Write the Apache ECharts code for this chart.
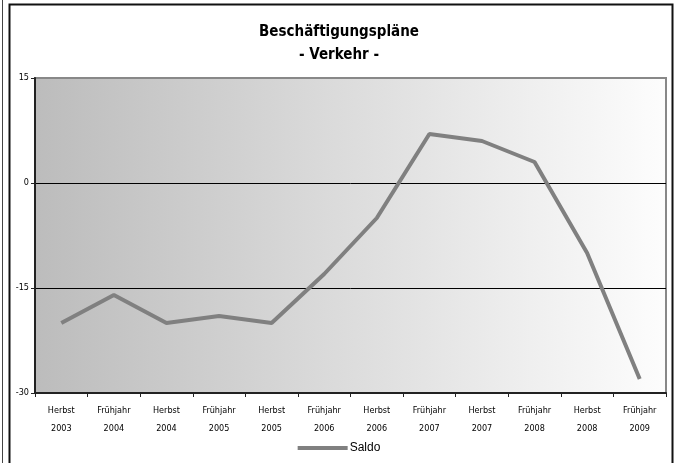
<!DOCTYPE html>
<html>
<head>
<meta charset="utf-8">
<script src="https://cdn.jsdelivr.net/npm/echarts@6/dist/echarts.min.js"></script>
<style>
  html, body { margin: 0; padding: 0; background: #fff; }
  #chart { width: 678px; height: 463px; }
</style>
</head>
<body>
<div id="chart"></div>
<script>
// Survey periods (two-line labels: season / year)
const categories = [
  'Herbst\n2003', 'Frühjahr\n2004', 'Herbst\n2004', 'Frühjahr\n2005',
  'Herbst\n2005', 'Frühjahr\n2006', 'Herbst\n2006', 'Frühjahr\n2007',
  'Herbst\n2007', 'Frühjahr\n2008', 'Herbst\n2008', 'Frühjahr\n2009'
];
// Balance of planned hiring (Saldo), transport sector
const saldo = [-20, -16, -20, -19, -20, -13, -5, 7, 6, 3, -10, -28];
const seriesName = 'Saldo';
const yTicks = { min: -30, max: 15, step: 15 };

const narrow = "'DejaVu Sans Condensed', 'Liberation Sans', Arial, sans-serif";
const plain = "'Liberation Sans', Arial, sans-serif";

const chart = echarts.init(document.getElementById('chart'));
chart.setOption({
  animation: false,
  backgroundColor: '#ffffff',
  title: {
    text: 'Beschäftigungspläne\n- Verkehr -',
    left: 'center',
    top: 16,
    textStyle: {
      fontFamily: narrow,
      fontSize: 15,
      fontWeight: 'bold',
      color: '#000',
      lineHeight: 23
    }
  },
  legend: {
    data: [seriesName],
    bottom: 4,
    left: 'center',
    icon: 'rect',
    itemWidth: 50,
    itemHeight: 4,
    itemGap: 2,
    textStyle: { fontFamily: plain, fontSize: 12, color: '#000', padding: [0, 0, 0, -3] }
  },
  grid: {
    left: 35,
    right: 12,
    top: 78,
    bottom: 70,
    show: true,
    borderColor: '#888888',
    borderWidth: 2,
    backgroundColor: new echarts.graphic.LinearGradient(0, 0, 1, 0, [
      { offset: 0, color: '#bcbcbc' },
      { offset: 1, color: '#fdfdfd' }
    ])
  },
  xAxis: {
    type: 'category',
    data: categories,
    boundaryGap: true,
    axisLine: { show: true, onZero: false, lineStyle: { color: '#222', width: 2 } },
    axisTick: { show: true, alignWithLabel: false, length: 4, lineStyle: { color: '#222', width: 1 } },
    axisLabel: {
      fontFamily: narrow,
      fontSize: 9,
      color: '#000',
      lineHeight: 18,
      margin: 9,
      interval: 0
    },
    splitLine: { show: false }
  },
  yAxis: {
    type: 'value',
    min: yTicks.min,
    max: yTicks.max,
    interval: yTicks.step,
    axisLine: { show: true, lineStyle: { color: '#222', width: 2 } },
    axisTick: { show: true, length: 4, lineStyle: { color: '#222', width: 1 } },
    axisLabel: { fontFamily: narrow, fontSize: 9, color: '#000', margin: 6 },
    splitLine: {
      show: true,
      showMinLine: false,
      showMaxLine: false,
      lineStyle: { color: '#000', width: 1 }
    }
  },
  series: [{
    name: seriesName,
    type: 'line',
    data: saldo,
    symbol: 'none',
    lineStyle: { color: '#808080', width: 4 },
    itemStyle: { color: '#808080' },
    z: 5
  }],
  graphic: [
    // outer chart frame
    { type: 'rect', shape: { x: 9.5, y: 4.5, width: 663, height: 470 },
      style: { fill: 'none', stroke: '#111', lineWidth: 2 }, silent: true, z: 100 },
    { type: 'line', shape: { x1: 2.5, y1: 0, x2: 2.5, y2: 463 },
      style: { stroke: '#444', lineWidth: 1 }, silent: true, z: 100 }
  ]
});
</script>
</body>
</html>
